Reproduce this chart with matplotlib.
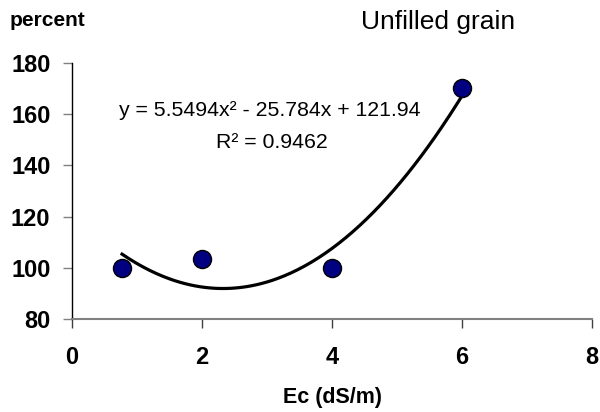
import numpy as np
import matplotlib
matplotlib.use("Agg")
import matplotlib.pyplot as plt

plt.rcParams['font.family'] = ['Liberation Sans', 'DejaVu Sans']

# Salinity levels (EC, dS/m) and unfilled grain (percent of control)
ec = [0.77, 2, 4, 6]
unfilled = [100, 103.5, 100, 170]

# Second-order polynomial trend
coef = [5.5494, -25.784, 121.94]
r2 = 0.9462

x_ticks = [0, 2, 4, 6, 8]
y_ticks = [80, 100, 120, 140, 160, 180]

fig = plt.figure(figsize=(6, 4.12), dpi=100)
ax = fig.add_axes([0.12, 0.225, 0.8667, 0.6233])

xs = np.linspace(ec[0], ec[-1], 200)
ax.plot(xs, np.polyval(coef, xs), color='black', lw=2.3, zorder=2)
ax.plot(ec, unfilled, 'o', ms=13, mfc='#000080', mec='black', mew=1.0,
        zorder=3, clip_on=False)

ax.set_xlim(0, 8)
ax.set_ylim(80, 180)
ax.set_xticks(x_ticks)
ax.set_yticks(y_ticks)

for s in ['top', 'right']:
    ax.spines[s].set_visible(False)
ax.spines['left'].set_color('black')
ax.spines['left'].set_linewidth(1.0)
ax.spines['bottom'].set_color('#808080')
ax.spines['bottom'].set_linewidth(1.5)

ax.tick_params(axis='x', direction='out', length=6.5, width=1.0,
               color='#404040', pad=13, labelsize=17)
ax.tick_params(axis='y', direction='out', length=6.5, width=1.0,
               color='#808080', pad=9, labelsize=17)
for lab in ax.get_xticklabels() + ax.get_yticklabels():
    lab.set_fontweight('bold')

ax.set_xlabel('Ec (dS/m)', fontsize=15.5, fontweight='bold', labelpad=13)

eq = 'y = 5.5494x² - 25.784x + 121.94'
ax.text(0.381, 0.815, eq, transform=ax.transAxes, fontsize=15.3,
        ha='center', va='center')
ax.text(0.385, 0.69, 'R² = 0.9462', transform=ax.transAxes, fontsize=15.3,
        ha='center', va='center')

fig.text(10 / 600, 1 - 21 / 412, 'percent', fontsize=15, fontweight='bold',
         ha='left', va='center')
fig.text(438 / 600, 1 - 22 / 412, 'Unfilled grain', fontsize=19,
         ha='center', va='center')

fig.savefig('out.png', dpi=100)
